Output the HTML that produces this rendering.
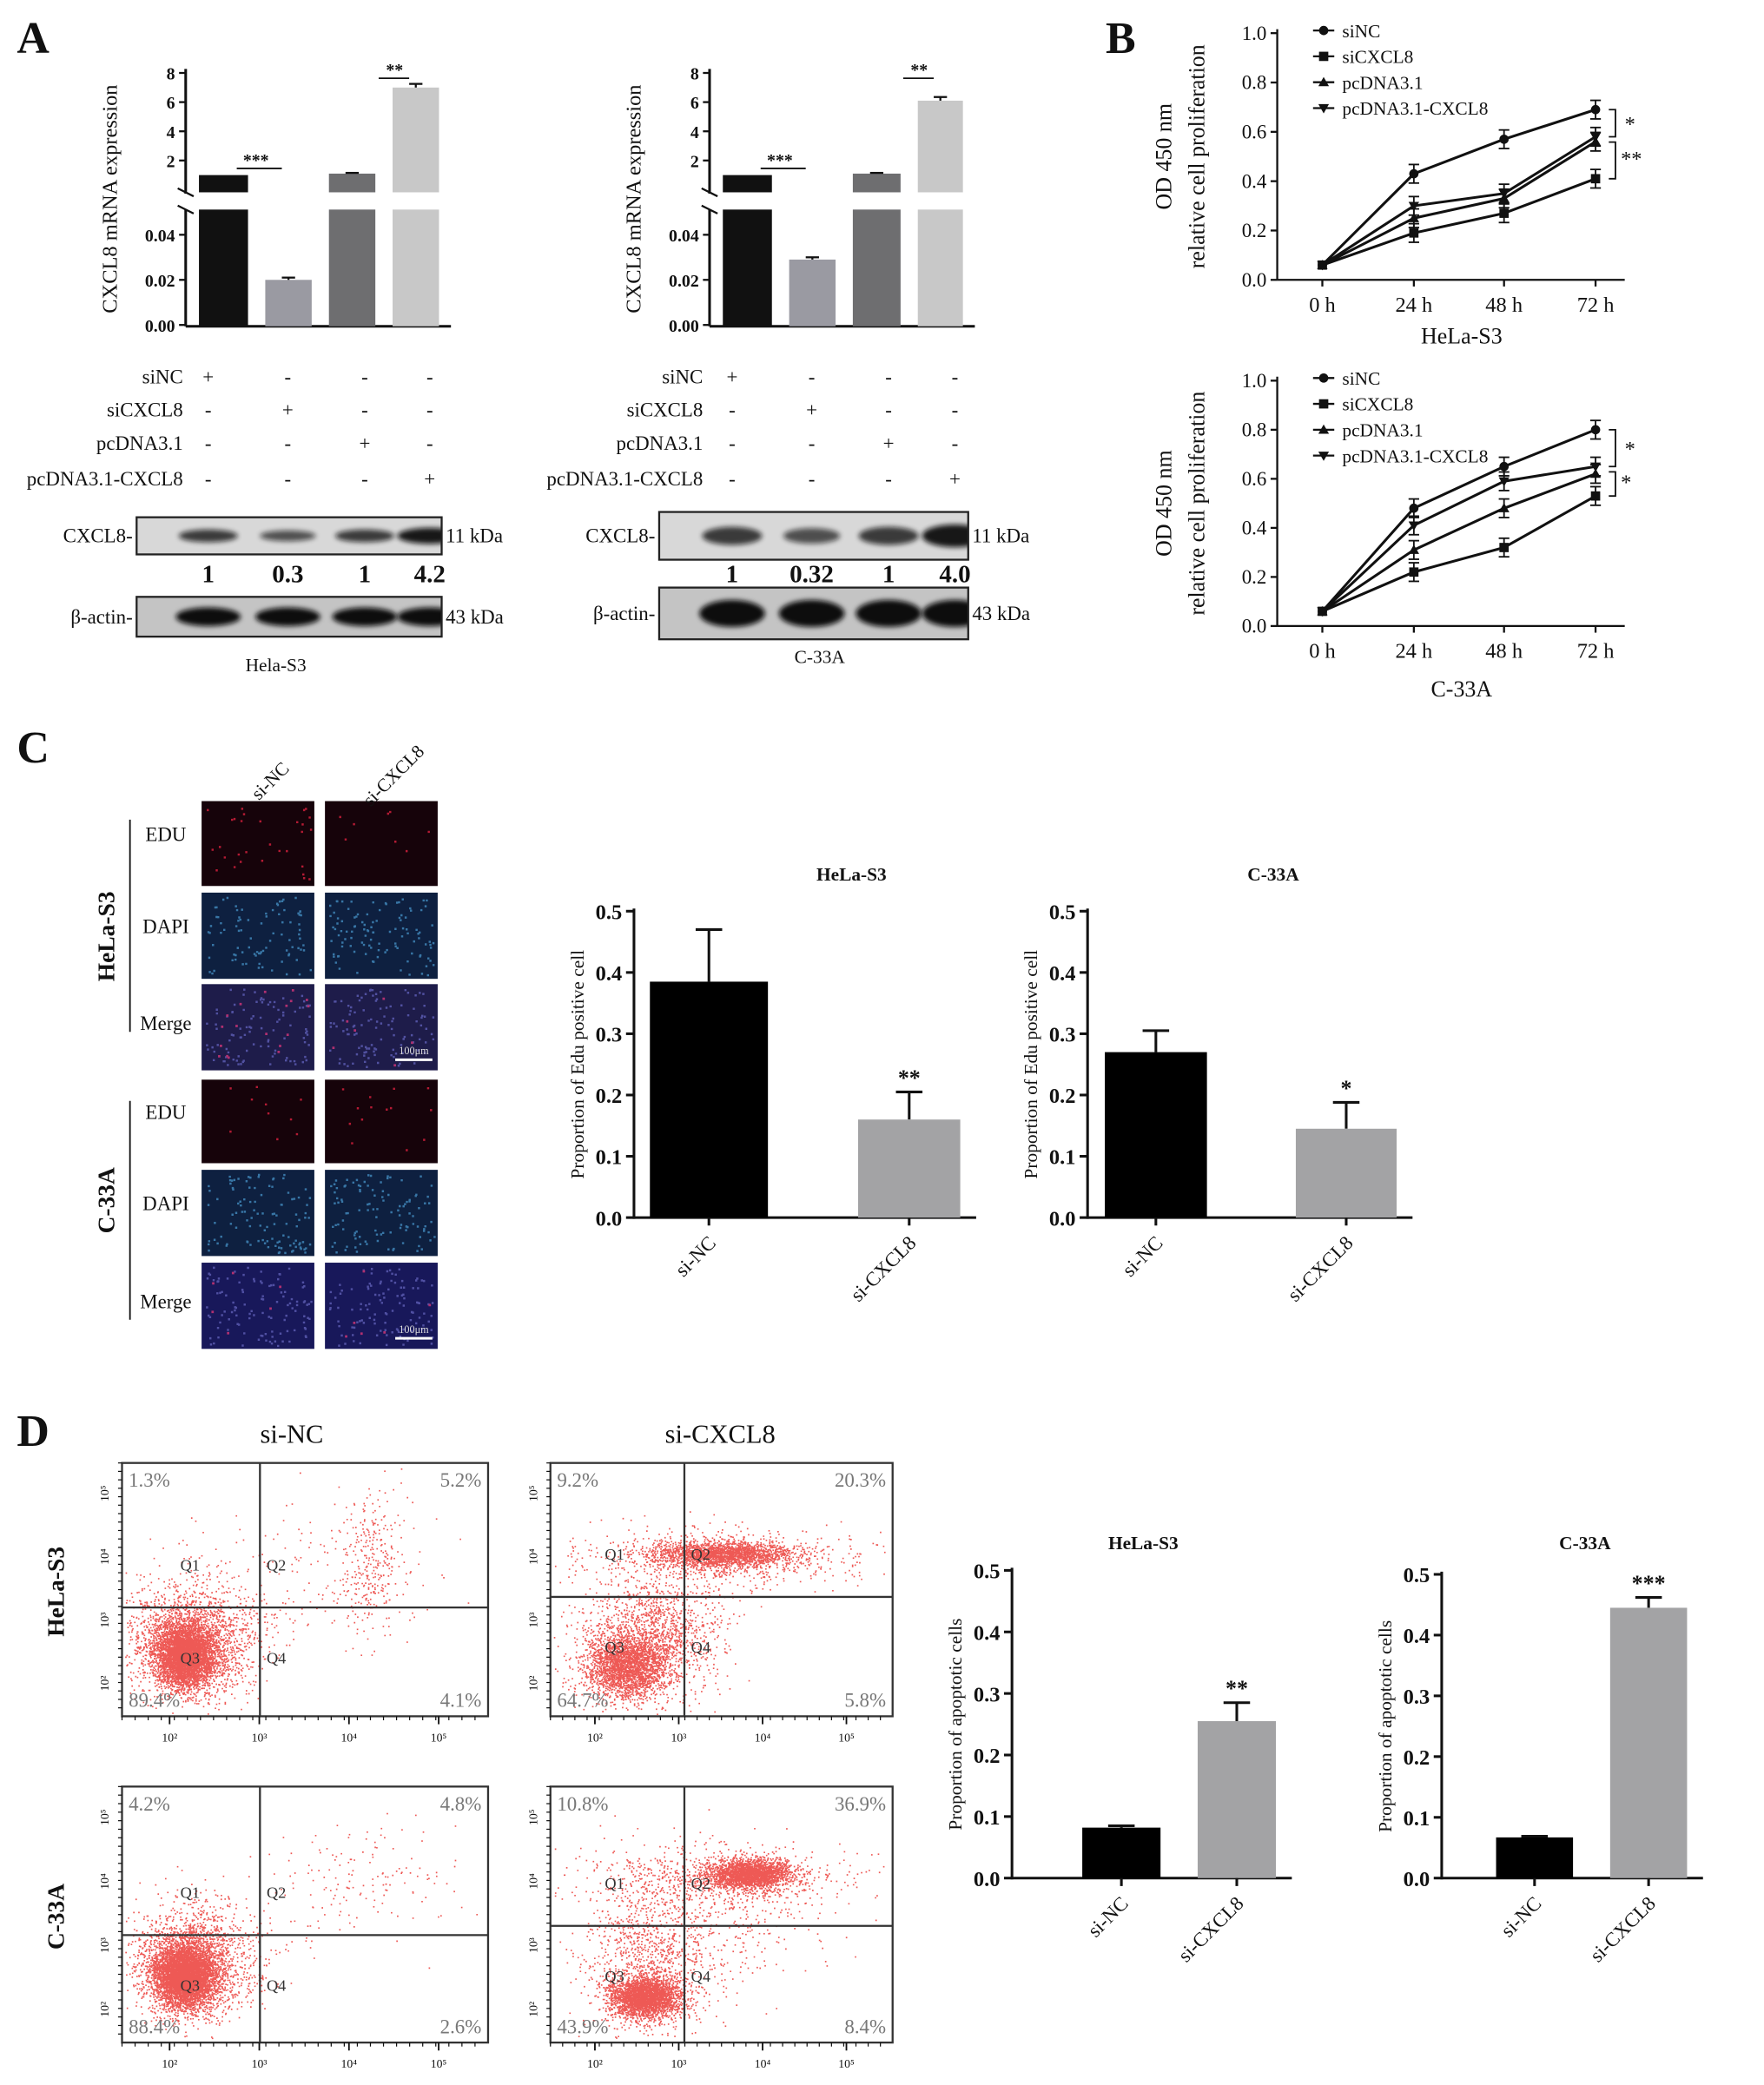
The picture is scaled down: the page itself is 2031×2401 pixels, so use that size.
<!DOCTYPE html>
<html><head><meta charset="utf-8"><style>
html,body{margin:0;padding:0;background:#fff}
svg{display:block}
text{font-family:"Liberation Serif",serif}
</style></head><body>
<svg id="fig" xmlns="http://www.w3.org/2000/svg" width="2031" height="2401" viewBox="0 0 1330 1572" preserveAspectRatio="none">
<defs id="defs"><filter id="blur" x="-20%" y="-50%" width="140%" height="200%"><feGaussianBlur stdDeviation="2"/></filter></defs>
</svg>
<script>
// ---------- data ----------
const aGroups = ["siNC","siCXCL8","pcDNA3.1","pcDNA3.1-CXCL8"];
const aHelaVals = [1, 0.020, 1.1, 7.0];
const aHelaErr = [0, 0.001, 0.05, 0.25];
const aC33Vals = [1, 0.029, 1.1, 6.1];
const aC33Err = [0, 0.001, 0.05, 0.25];
const aHelaBlot = ["1","0.3","1","4.2"];
const aC33Blot = ["1","0.32","1","4.0"];
const timeLabels = ["0 h","24 h","48 h","72 h"];
const bHelaSiNC = [0.06,0.43,0.57,0.69];
const bHelaSiCXCL8 = [0.06,0.19,0.27,0.41];
const bHelaPc = [0.06,0.25,0.33,0.56];
const bHelaPcCX = [0.06,0.30,0.35,0.58];
const bC33SiNC = [0.06,0.48,0.65,0.80];
const bC33SiCXCL8 = [0.06,0.22,0.32,0.53];
const bC33Pc = [0.06,0.31,0.48,0.62];
const bC33PcCX = [0.06,0.41,0.59,0.65];
const barCats = ["si-NC","si-CXCL8"];
const cHelaVals = [0.385,0.16];
const cHelaErr = [0.47,0.205];
const cC33Vals = [0.27,0.145];
const cC33Err = [0.305,0.188];
const dHelaVals = [0.082,0.255];
const dHelaErr = [0.085,0.285];
const dC33Vals = [0.067,0.445];
const dC33Err = [0.069,0.462];
const barTicks = ["0.0","0.1","0.2","0.3","0.4","0.5"];

// ---------- helpers ----------
const NS="http://www.w3.org/2000/svg";
const svg=document.getElementById('fig');
const defs=document.getElementById('defs');
function mk(tag,attrs,name,parent){
  const el=document.createElementNS(NS,tag);
  for(const k in attrs) el.setAttribute(k,attrs[k]);
  
  
  (parent||svg).appendChild(el);return el;
}
function txt(x,y,s,size,name,o){
  o=o||{};
  const a={x:x,y:y,'font-size':size,fill:o.fill||'#111','text-anchor':o.anchor||'middle'};
  if(o.bold)a['font-weight']='bold';
  if(o.rot!==undefined)a.transform='rotate('+o.rot+' '+x+' '+y+')';
  if(o.family)a['font-family']=o.family;
  const t=mk('text',a,name,o.parent);t.textContent=s;return t;
}
function line(x1,y1,x2,y2,name,w,c){return mk('line',{x1:x1,y1:y1,x2:x2,y2:y2,stroke:c||'#111','stroke-width':w||1.5},name);}
let seed=12345;function rnd(){seed=(seed*16807)%2147483647;return (seed-1)/2147483646;}
function gauss(){return Math.sqrt(-2*Math.log(rnd()+1e-9))*Math.cos(2*Math.PI*rnd());}
let clipN=0;
function clipRect(x,y,w,h){const id='cl'+(clipN++);const cp=mk('clipPath',{id:id},"clip",defs);mk('rect',{x:x,y:y,width:w,height:h},"clip-rect",cp);return 'url(#'+id+')';}

// ---------- panel letters ----------
txt(25,40,"A",34,"panel-label-a",{bold:true});
txt(845,40,"B",34,"panel-label-b",{bold:true});
txt(25,575,"C",34,"panel-label-c",{bold:true});
txt(25,1090,"D",34,"panel-label-d",{bold:true});

// ---------- panel A ----------
function panelA(ax,vals,errs,bars,tableLabX,cols,blotName,blot,cell,cellX,pre){
  const yt=v=>143-11*v, yb=v=>245-v*1700;
  const fills=["#111","#9a9aa2","#6e6e70","#c8c8c8"];
  line(ax,52,ax,146,pre+"-y-axis-top",2);
  line(ax,158,ax,246,pre+"-y-axis-bottom",2);
  line(ax-6,142,ax+6,148,pre+"-break-1",1.5);line(ax-6,155,ax+6,161,pre+"-break-2",1.5);
  [2,4,6,8].forEach(v=>{line(ax-5,yt(v),ax,yt(v),pre+"-tick-top");txt(ax-8,yt(v)+5,String(v),13,pre+"-tick-label-top",{anchor:'end',bold:true,family:'Liberation Sans'});});
  [0,0.02,0.04].forEach(v=>{line(ax-5,yb(v),ax,yb(v),pre+"-tick-bottom");txt(ax-8,yb(v)+5,v.toFixed(2),13,pre+"-tick-label-bottom",{anchor:'end',bold:true,family:'Liberation Sans'});});
  line(ax,246,ax+200,246,pre+"-x-axis",2);
  txt(ax-52,150,"CXCL8 mRNA expression",16,pre+"-y-title",{rot:-90});
  vals.forEach((v,i)=>{
    const [bx,bw]=bars[i];
    if(v>=0.5){
      mk('rect',{x:bx,y:yt(v),width:bw,height:143-yt(v)+2,fill:fills[i]},pre+"-bar-top-"+i);
      mk('rect',{x:bx,y:158,width:bw,height:88,fill:fills[i]},pre+"-bar-bottom-"+i);
      if(errs[i]>0){line(bx+bw/2,yt(v),bx+bw/2,yt(v+errs[i]),pre+"-err");line(bx+bw/2-5,yt(v+errs[i]),bx+bw/2+5,yt(v+errs[i]),pre+"-err-cap");}
    }else{
      mk('rect',{x:bx,y:yb(v),width:bw,height:245-yb(v)+1,fill:fills[i]},pre+"-bar-"+i);
      line(bx+bw/2,yb(v),bx+bw/2,yb(v+errs[i]),pre+"-err");line(bx+bw/2-5,yb(v+errs[i]),bx+bw/2+5,yb(v+errs[i]),pre+"-err-cap");
    }
  });
  const c1=bars[0][0]+bars[0][1]/2,c2=bars[1][0]+bars[1][1]/2,c3=bars[2][0]+bars[2][1]/2,c4=bars[3][0]+bars[3][1]/2;
  line(c1+10,127,c2-5,127,pre+"-sig-line-1",1.2);txt((c1+c2)/2,125,"***",13,pre+"-sig-1",{bold:true});
  line(c3+20,59,c4-5,59,pre+"-sig-line-2",1.2);txt((c3+c4)/2+8,57,"**",13,pre+"-sig-2",{bold:true});
  const rows=[284,309,334,361];
  const marks=[["+","-","-","-"],["-","+","-","-"],["-","-","+","-"],["-","-","-","+"]];
  aGroups.forEach((g,r)=>{txt(tableLabX,rows[r]+5,g,15,pre+"-row-label",{anchor:'end'});
    cols.forEach((cx,c)=>txt(cx,rows[r]+5,marks[r][c],15,pre+"-row-mark"));});
  const [bx1,bx2,b1y,b1h,n_y,b2y,b2h,strength]=blot;
  mk('rect',{x:bx1,y:b1y,width:bx2-bx1,height:b1h,fill:'#d8d8d8'},pre+"-blot-cxcl8");
  mk('rect',{x:bx1,y:b2y,width:bx2-bx1,height:b2h,fill:'#c4c4c4'},pre+"-blot-actin");
  const cp1=clipRect(bx1,b1y,bx2-bx1,b1h),cp2=clipRect(bx1,b2y,bx2-bx1,b2h);
  const g1=mk('g',{'clip-path':cp1},pre+"-bands-cxcl8"),g2=mk('g',{'clip-path':cp2},pre+"-bands-actin");
  const bandW=[0.65,0.45,0.65,1.0];
  cols.forEach((cx,i)=>{
    const w=(bx2-bx1)/4*0.85;
    mk('ellipse',{cx:cx,cy:b1y+b1h/2,rx:w/2*(0.75+0.25*bandW[i]),ry:b1h*0.14*(0.7+bandW[i])*strength,fill:'#111',opacity:(0.45+0.5*bandW[i]),filter:'url(#blur)'},pre+"-band-cxcl8",g1);
    mk('ellipse',{cx:cx,cy:b2y+b2h/2,rx:w/2,ry:b2h*0.26*strength,fill:'#0a0a0a',filter:'url(#blur)'},pre+"-band-actin",g2);
    txt(cx,n_y,blotName[i],19,pre+"-blot-value",{bold:true,family:'Liberation Sans'});
  });
  mk('rect',{x:bx1,y:b1y,width:bx2-bx1,height:b1h,fill:'none',stroke:'#222','stroke-width':1.5},pre+"-blot-cxcl8-frame");
  mk('rect',{x:bx1,y:b2y,width:bx2-bx1,height:b2h,fill:'none',stroke:'#222','stroke-width':1.5},pre+"-blot-actin-frame");
  txt(bx1-3,b1y+b1h/2+5,"CXCL8-",15,pre+"-cxcl8-label",{anchor:'end'});
  txt(bx1-3,b2y+b2h/2+5,"β-actin-",15,pre+"-actin-label",{anchor:'end'});
  txt(bx2+3,b1y+b1h/2+5,"11 kDa",15,pre+"-11kda",{anchor:'start'});
  txt(bx2+3,b2y+b2h/2+5,"43 kDa",15,pre+"-43kda",{anchor:'start'});
  txt(cellX,cell,pre==="a-hela"?"Hela-S3":"C-33A",14,pre+"-cell-label");
}
panelA(140,aHelaVals,aHelaErr,[[150,37],[200,35],[248,35],[296,35]],138,[157,217,275,324],aHelaBlot,[103,333,390,28,439,450,30,0.9],506,208,"a-hela");
panelA(535,aC33Vals,aC33Err,[[545,37],[595,35],[643,36],[692,34]],530,[552,612,670,720],aC33Blot,[497,730,386,36,439,443,39,1],500,618,"a-c33");

// ---------- panel B ----------
function panelB(ax,y1,y0,series,title,titleY,pre){
  const xs=[997,1066,1134,1203];
  const y=v=>y0-(y0-y1)*v;
  line(ax,y1-3,ax,y0,pre+"-y-axis",1.5);line(ax,y0,1225,y0,pre+"-x-axis",1.5);
  for(let i=0;i<=5;i++){const v=i*0.2;line(ax-5,y(v),ax,y(v),pre+"-y-tick");txt(ax-8,y(v)+5,v.toFixed(1),15,pre+"-y-tick-label",{anchor:'end'});}
  xs.forEach((x,i)=>{line(x,y0,x,y0+5,pre+"-x-tick");txt(x,y0+24,timeLabels[i],16,pre+"-x-tick-label");});
  txt(1102,titleY,title,17,pre+"-x-title");
  txt(ax-80,(y1+y0)/2,"OD 450 nm",17,pre+"-y-title-1",{rot:-90});
  txt(ax-55,(y1+y0)/2,"relative cell proliferation",17,pre+"-y-title-2",{rot:-90});
  const names=["siNC","siCXCL8","pcDNA3.1","pcDNA3.1-CXCL8"];
  function marker(k,x,yy,name){
    if(k===1)mk('rect',{x:x-3.5,y:yy-3.5,width:7,height:7,fill:'#111'},name);
    else if(k===2)mk('path',{d:`M${x-4} ${yy+3}L${x+4} ${yy+3}L${x} ${yy-4}Z`,fill:'#111'},name);
    else if(k===3)mk('path',{d:`M${x-4} ${yy-3}L${x+4} ${yy-3}L${x} ${yy+4}Z`,fill:'#111'},name);
    else mk('circle',{cx:x,cy:yy,r:3.5,fill:'#111'},name);
  }
  series.forEach((s,k)=>{
    const pts=s.map((v,i)=>xs[i]+","+y(v)).join(" ");
    mk('polyline',{points:pts,fill:'none',stroke:'#111','stroke-width':2},pre+"-line-"+names[k]);
    s.forEach((v,i)=>{
      marker(k,xs[i],y(v),pre+"-marker");
      if(i>0){line(xs[i],y(v)-7,xs[i],y(v)+7,pre+"-err",1.2);line(xs[i]-4,y(v)-7,xs[i]+4,y(v)-7,pre+"-err-cap",1.2);line(xs[i]-4,y(v)+7,xs[i]+4,y(v)+7,pre+"-err-cap",1.2);}
    });
    const ly=y1-2+k*19.5;
    line(990,ly,1006,ly,pre+"-legend-line");
    marker(k,998,ly,pre+"-legend-marker");
    txt(1012,ly+5,names[k],14,pre+"-legend-entry",{anchor:'start'});
  });
  const a=y(series[0][3]),b=y(series[3][3]),c=y(series[1][3]);
  mk('path',{d:`M1213 ${a}H1218V${b}H1213`,fill:'none',stroke:'#111','stroke-width':1.2},pre+"-bracket-1");
  txt(1225,(a+b)/2+6,"*",16,pre+"-sig-1",{anchor:'start'});
  mk('path',{d:`M1213 ${b+4}H1218V${c}H1213`,fill:'none',stroke:'#111','stroke-width':1.2},pre+"-bracket-2");
  txt(1222,(b+c)/2+6,pre==="b-hela"?"**":"*",16,pre+"-sig-2",{anchor:'start'});
}
panelB(963,25,211,[bHelaSiNC,bHelaSiCXCL8,bHelaPc,bHelaPcCX],"HeLa-S3",259,"b-hela");
panelB(963,287,472,[bC33SiNC,bC33SiCXCL8,bC33Pc,bC33PcCX],"C-33A",525,"b-c33");

// ---------- panel C images ----------
const imgCols=[[152,85],[245,85]];
const imgRows=[[604,64,'EDU'],[673,65,'DAPI'],[742,65,'Merge'],[814,63,'EDU'],[882,65,'DAPI'],[952,65,'Merge']];
const dens=[[30,8],[90,110],[100,110],[10,14],[110,110],[110,110]];
imgRows.forEach((r,ri)=>{
  imgCols.forEach((c,ci)=>{
    const t=r[2];
    const bg=t==='EDU'?'#16030a':(t==='DAPI'?'#0e2040':(ri<3?'#1e1c4a':'#18185a'));
    mk('rect',{x:c[0],y:r[0],width:c[1],height:r[1],fill:bg},"micrograph-"+t.toLowerCase());
    const n=dens[ri][ci];
    let d="";
    for(let i=0;i<n;i++){
      const x=c[0]+3+rnd()*(c[1]-6),yy=r[0]+3+rnd()*(r[1]-6);
      d+=`M${x.toFixed(1)} ${yy.toFixed(1)}h1.6v1.6h-1.6z`;
    }
    const col=t==='EDU'?'#d0203c':(t==='DAPI'?'#3f86b8':'#5a5ab0');
    mk('path',{d:d,fill:col,opacity:0.85},"cell-dots");
    if(t==='Merge'){let d2="";const m=ci?6:(ri<3?18:6);for(let i=0;i<m;i++){const x=c[0]+3+rnd()*(c[1]-6),yy=r[0]+3+rnd()*(r[1]-6);d2+=`M${x.toFixed(1)} ${yy.toFixed(1)}h1.8v1.8h-1.8z`;}
      mk('path',{d:d2,fill:'#b03070'},"edu-merge-dots");}
    if(t==='Merge'&&ci===1){line(298,r[0]+r[1]-8,326,r[0]+r[1]-8,"scale-bar",2,'#fff');txt(312,r[0]+r[1]-12,"100μm",8,"scale-label",{fill:'#ddd'});}
  });
  txt(125,r[0]+r[1]/2+(r[2]==='Merge'?2:-2),r[2],15,"c-row-label");
});
txt(207,592,"si-NC",14,"c-col-label",{rot:-45});
txt(300,588,"si-CXCL8",14,"c-col-label",{rot:-45});
line(98,618,98,778,"c-hela-bracket",1.2);
line(98,830,98,995,"c-c33-bracket",1.2);
txt(86,706,"HeLa-S3",18,"c-hela-label",{bold:true,rot:-90});
txt(86,905,"C-33A",18,"c-c33-label",{bold:true,rot:-90});

// ---------- bar charts ----------
function barChart(ax,y5,y0,vals,errs,bars,title,tx,ty,ylab,stars,pre){
  const y=v=>y0-(y0-y5)*v/0.5;
  line(ax,y5-2,ax,y0+1,pre+"-y-axis",2);
  barTicks.forEach((t,i)=>{const v=i*0.1;line(ax-6,y(v),ax,y(v),pre+"-y-tick",2);txt(ax-9,y(v)+6,t,16,pre+"-y-tick-label",{anchor:'end',bold:true,family:'Liberation Sans'});});
  const xe=bars[1][0]+bars[1][1]+12;
  line(ax,y0,xe,y0,pre+"-x-axis",2);
  vals.forEach((v,i)=>{
    const [bx,bw]=bars[i],cx=bx+bw/2;
    line(cx,y(v),cx,y(errs[i]),pre+"-err",2);line(cx-10,y(errs[i]),cx+10,y(errs[i]),pre+"-err-cap",2);
    mk('rect',{x:bx,y:y(v),width:bw,height:y0-y(v),fill:i?'#a3a3a5':'#000'},pre+"-bar-"+barCats[i]);
    line(cx,y0,cx,y0+6,pre+"-x-tick",2);
    txt(cx+6,y0+20,barCats[i],15,pre+"-x-tick-label",{anchor:'end',rot:-45});
  });
  const b=bars[1];txt(b[0]+b[1]/2,y(errs[1])-5,stars,17,pre+"-sig",{bold:true});
  txt(tx,ty,title,14,pre+"-title",{bold:true});
  txt(ax-38,(y5+y0)/2,ylab,14,pre+"-y-title",{rot:-90});
}
barChart(478,687,918,cHelaVals,cHelaErr,[[490,89],[647,77]],"HeLa-S3",642,664,"Proportion of Edu positive cell","**","c-hela");
barChart(820,687,918,cC33Vals,cC33Err,[[833,77],[977,76]],"C-33A",960,664,"Proportion of Edu positive cell","*","c-c33");
barChart(763,1184,1416,dHelaVals,dHelaErr,[[816,59],[903,59]],"HeLa-S3",862,1168,"Proportion of apoptotic cells","**","d-hela");
barChart(1087,1187,1416,dC33Vals,dC33Err,[[1128,58],[1214,58]],"C-33A",1195,1168,"Proportion of apoptotic cells","***","d-c33");

// ---------- panel D flow plots ----------
txt(220,1088,"si-NC",20,"d-col-label-sinc");
txt(543,1088,"si-CXCL8",20,"d-col-label-sicxcl8");
txt(48,1200,"HeLa-S3",18,"d-hela-label",{bold:true,rot:-90});
txt(48,1445,"C-33A",18,"d-c33-label",{bold:true,rot:-90});
const plots=[
 {x:92,y:1103,w:276,h:191,qx:196,qy:1212,p:["1.3%","5.2%","89.4%","4.1%"],cl:[[0.17,0.76,0.04,0.06,4000],[0.19,0.72,0.08,0.1,2000],[0.2,0.6,0.12,0.12,400],[0.68,0.4,0.04,0.15,250],[0.6,0.4,0.12,0.15,150]]},
 {x:415,y:1103,w:258,h:191,qx:516,qy:1204,p:["9.2%","20.3%","64.7%","5.8%"],cl:[[0.22,0.8,0.06,0.06,2500],[0.3,0.68,0.1,0.12,1400],[0.5,0.36,0.1,0.025,2000],[0.5,0.38,0.22,0.06,700]]},
 {x:92,y:1347,w:276,h:193,qx:196,qy:1459,p:["4.2%","4.8%","88.4%","2.6%"],cl:[[0.17,0.74,0.04,0.06,4500],[0.19,0.7,0.08,0.1,2000],[0.2,0.6,0.12,0.12,300],[0.65,0.35,0.12,0.12,150]]},
 {x:415,y:1347,w:258,h:193,qx:516,qy:1452,p:["10.8%","36.9%","43.9%","8.4%"],cl:[[0.27,0.82,0.05,0.04,2800],[0.3,0.68,0.1,0.14,900],[0.58,0.34,0.06,0.03,2200],[0.5,0.36,0.18,0.06,700],[0.4,0.5,0.2,0.15,400]]}
];
plots.forEach((p,pi)=>{
  const g=mk('g',{},"flow-plot-"+pi);
  let d="";
  p.cl.forEach(c=>{for(let i=0;i<c[4];i++){
    const px=p.x+p.w*(c[0]+gauss()*c[2]),py=p.y+p.h*(c[1]+gauss()*c[3]);
    if(px<p.x+2||px>p.x+p.w-2||py<p.y+2||py>p.y+p.h-2)continue;
    d+=`M${px.toFixed(1)} ${py.toFixed(1)}h1.1v1.1h-1.1z`;}});
  mk('path',{d:d,fill:'#e8221c',opacity:0.75},"flow-dots",g);
  mk('rect',{x:p.x,y:p.y,width:p.w,height:p.h,fill:'none',stroke:'#333','stroke-width':1.5},"flow-frame",g);
  line(p.qx,p.y,p.qx,p.y+p.h,"quadrant-vline",1.5,'#333');
  line(p.x,p.qy,p.x+p.w,p.qy,"quadrant-hline",1.5,'#333');
  txt(p.x+5,p.y+18,p.p[0],15,"quad-pct",{anchor:'start',fill:'#777',family:'Liberation Sans'});
  txt(p.x+p.w-5,p.y+18,p.p[1],15,"quad-pct",{anchor:'end',fill:'#777',family:'Liberation Sans'});
  txt(p.x+5,p.y+p.h-7,p.p[2],15,"quad-pct",{anchor:'start',fill:'#777',family:'Liberation Sans'});
  txt(p.x+p.w-5,p.y+p.h-7,p.p[3],15,"quad-pct",{anchor:'end',fill:'#777',family:'Liberation Sans'});
  const lx=p.qx-60,rx=p.qx+5;
  txt(lx,p.qy-28,"Q1",12,"quad-label",{anchor:'start',fill:'#333',family:'Liberation Sans'});
  txt(rx,p.qy-28,"Q2",12,"quad-label",{anchor:'start',fill:'#333',family:'Liberation Sans'});
  txt(lx,p.qy+42,"Q3",12,"quad-label",{anchor:'start',fill:'#333',family:'Liberation Sans'});
  txt(rx,p.qy+42,"Q4",12,"quad-label",{anchor:'start',fill:'#333',family:'Liberation Sans'});
  ["10²","10³","10⁴","10⁵"].forEach((l,i)=>{const x=p.x+p.w*(0.13+i*0.245);
    line(x,p.y+p.h,x,p.y+p.h+6,"flow-x-tick",1.2);txt(x,p.y+p.h+19,l,9,"flow-x-tick-label");});
  for(let i=0;i<28;i++){const x=p.x+p.w*i/28;line(x,p.y+p.h,x,p.y+p.h+3,"flow-x-minor",0.8);}
  for(let i=0;i<30;i++){const yy=p.y+p.h*i/30;line(p.x-3,yy,p.x,yy,"flow-y-minor",0.8);}
  ["10²","10³","10⁴","10⁵"].forEach((l,i)=>{const yy=p.y+p.h*(0.87-i*0.25);
    txt(p.x-10,yy,l,9,"flow-y-tick-label",{rot:-90});});
});
</script>
</body></html>
